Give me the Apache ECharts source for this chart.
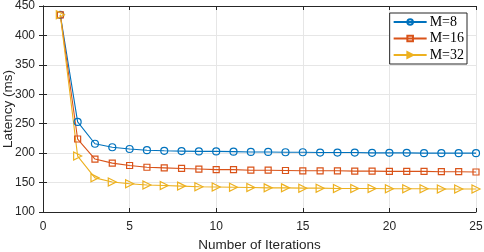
<!DOCTYPE html>
<html><head><meta charset="utf-8">
<script src="https://cdn.jsdelivr.net/npm/echarts@6/dist/echarts.min.js"></script>
<style>html,body{margin:0;padding:0;background:#fff}#c{width:484px;height:252px}</style>
</head><body><div id="c"></div>
<script>
const iterations = [1,2,3,4,5,6,7,8,9,10,11,12,13,14,15,16,17,18,19,20,21,22,23,24,25];
const m8  = [435,253,216,210,207,205,204,203.5,203,203,202.5,202,202,201.5,201.5,201,201,201,200.5,200.5,200.5,200,200,200,200];
const m16 = [435,224,190,183,179,176,175,174,173,172,172,171,171,170.5,170,170,170,169.5,169.5,169,169,169,168.5,168.5,168];
const m32 = [435,195,158,151,148,146,145,144,143,142.5,142,141.5,141,141,140.5,140.5,140,140,140,139.5,139.5,139.5,139,139,139];
const seriesNames = ['M=8','M=16','M=32'];
const colors = ['#0072BD','#D95319','#EDB120'];
const symbols = ['circle','rect','path://M0,0 L10,5 L0,10 Z'];
const sizes = [7,6,8];
const datasets = [m8,m16,m32];

const chart = echarts.init(document.getElementById('c'), null, {renderer:'canvas'});
const axText = {color:'#262626', fontFamily:'Liberation Sans, Arial, sans-serif', fontSize:12};
const axLine = {show:true, lineStyle:{color:'#262626', width:1}};
const tick = {show:true, inside:true, length:4, lineStyle:{color:'#262626'}};
chart.setOption({
  animation:false,
  grid:{left:43, right:8, top:6, bottom:40, containLabel:false, outerBoundsMode:'none'},
  legend:{
    right:17, top:13, orient:'vertical', itemWidth:33, itemHeight:7, itemGap:2.5,
    backgroundColor:'#fff', borderColor:'#262626', borderWidth:1, padding:[2,3,2,3],
    textStyle:{fontFamily:'Liberation Serif, Times New Roman, serif', fontSize:14, color:'#000', padding:[0,0,0,-2]},
    data: seriesNames
  },
  xAxis:[{
    type:'value', min:0, max:25, interval:5,
    name:'Number of Iterations', nameLocation:'middle', nameGap:26, nameMoveOverlap:false,
    nameTextStyle:{...axText, fontSize:13.5},
    axisLabel:{...axText, margin:9},
    axisLine:axLine, axisTick:tick,
    splitLine:{show:true, lineStyle:{color:'#e6e6e6'}}
  },{
    type:'value', min:0, max:25, interval:5, position:'top',
    axisLabel:{show:false}, axisLine:axLine, axisTick:tick, splitLine:{show:false}
  }],
  yAxis:[{
    type:'value', min:100, max:450, interval:50,
    name:'Latency (ms)', nameLocation:'middle', nameGap:28, nameMoveOverlap:false,
    nameTextStyle:{...axText, fontSize:13.5},
    axisLabel:{...axText, margin:8},
    axisLine:axLine, axisTick:tick,
    splitLine:{show:true, lineStyle:{color:'#e6e6e6'}}
  },{
    type:'value', min:100, max:450, interval:50, position:'right',
    axisLabel:{show:false}, axisLine:axLine, axisTick:tick, splitLine:{show:false}
  }],
  series: datasets.map((d,i)=>({
    name: seriesNames[i], type:'line',
    data: iterations.map((x,j)=>[x,d[j]]),
    symbol: symbols[i], symbolSize: sizes[i],
    showAllSymbol:true,
    itemStyle:{color:'rgba(255,255,255,0)', borderColor:colors[i], borderWidth:1.2},
    lineStyle:{color:colors[i], width:1.1},
    emphasis:{disabled:true}
  }))
});
</script></body></html>
